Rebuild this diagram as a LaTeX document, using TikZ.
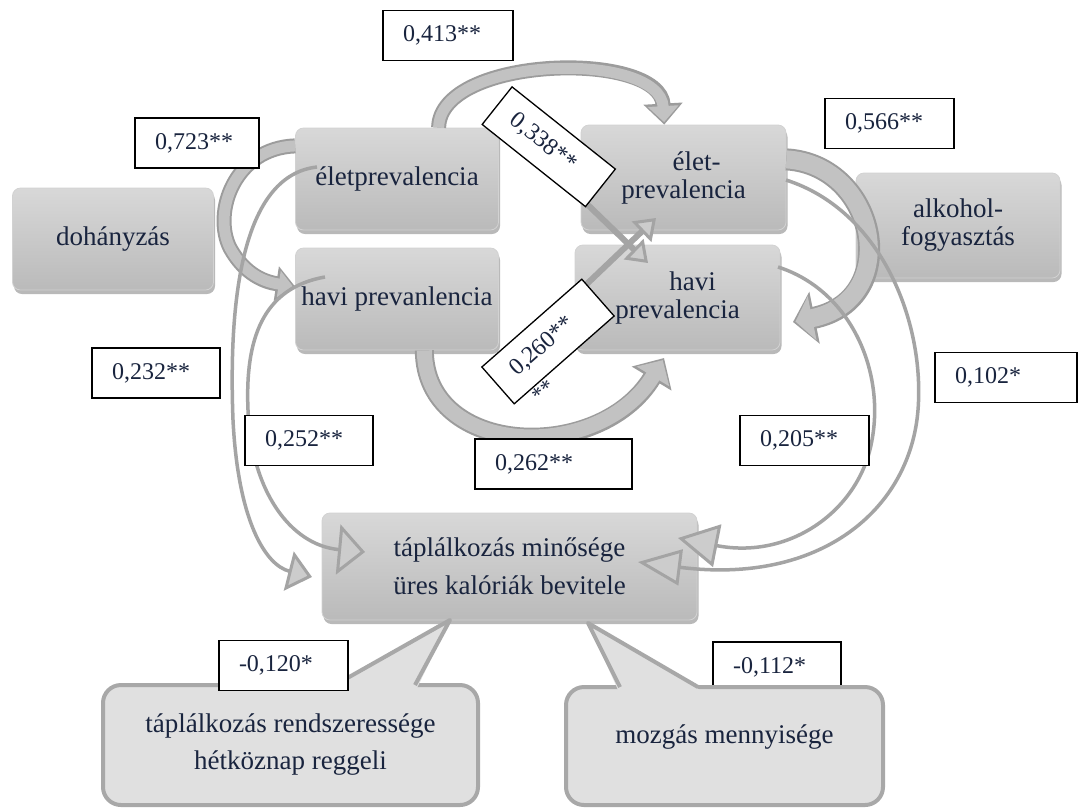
\documentclass[tikz,border=0pt]{standalone}
\usepackage{fontspec}
\setmainfont{Liberation Serif}
\usetikzlibrary{arrows.meta,shadows}

\definecolor{ink}{RGB}{25,36,62}
\definecolor{boxtop}{RGB}{216,216,216}
\definecolor{boxbot}{RGB}{186,186,186}
\definecolor{boxrim}{RGB}{210,210,210}
\definecolor{bandedge}{RGB}{156,156,156}
\definecolor{bandfill}{RGB}{194,194,194}
\definecolor{linkc}{RGB}{164,164,164}
\definecolor{headfill}{RGB}{204,204,204}
\definecolor{calloutfill}{RGB}{224,224,224}
\definecolor{calloutedge}{RGB}{168,168,168}

\tikzset{
  factor/.style={rounded corners=8pt, top color=boxtop, bottom color=boxbot,
    draw=boxrim, line width=0.8pt, text=ink, align=center, inner sep=0pt,
    font=\fontsize{27}{28}\selectfont,
    drop shadow={shadow xshift=1.5pt, shadow yshift=-4pt, opacity=0.55}},
  coef/.style={draw=black, fill=white, line width=1.3pt, text=ink,
    font=\fontsize{24}{26}\selectfont, minimum height=50pt,
    inner xsep=20pt, inner ysep=0pt, align=left},
  bandout/.style={color=bandedge},
  bandin/.style={color=bandfill},
  link/.style={draw=linkc, line width=3.5pt},
  strong/.style={draw=linkc, line width=6pt},
  calloutbox/.style={draw=calloutedge, fill=calloutfill, line width=4pt,
    rounded corners=18pt, text=ink, align=center,
    font=\fontsize{27}{37}\selectfont},
  wedgeline/.style={draw=calloutedge, line width=4pt, line join=round}
}

\begin{document}
\begin{tikzpicture}[x=1pt,y=-1pt]
\path[use as bounding box] (0,0) rectangle (1078,807);
\fill[white] (0,0) rectangle (1078,807);

% ---- variables ----
\node[factor, minimum width=201pt, minimum height=102pt] (doh) at (113,239) {dohányzás};
\node[factor, minimum width=203pt, minimum height=102pt] (elet1) at (397,179) {életprevalencia};
\node[factor, minimum width=203pt, minimum height=102pt] (havi1) at (397,299) {havi prevanlencia};
\node[factor, minimum width=205pt, minimum height=105pt] (elet2) at (683.5,177.5) {\hspace*{26pt}élet-\\prevalencia};
\node[factor, minimum width=205pt, minimum height=105pt] (havi2) at (677.5,297.5) {\hspace*{30pt}havi\\prevalencia};
\node[factor, minimum width=204pt, minimum height=105pt] (alk) at (958,225.5) {alkohol-\\fogyasztás};
\node[factor, minimum width=375pt, minimum height=107pt,
      font=\fontsize{27}{38}\selectfont] (tap) at (509.5,566.5) {táplálkozás minősége\\üres kalóriák bevitele};

% ---- connector end points ----
\coordinate (t262) at (664,358);
\coordinate (t566) at (793,322);
\coordinate (s232) at (317,167);
\coordinate (t232) at (312,577);
\coordinate (s252) at (325,277);
\coordinate (t252) at (365,552);
\coordinate (s205) at (778,267);
\coordinate (t205) at (678,538);
\coordinate (s102) at (786,180);
\coordinate (t102) at (638,562);
\coordinate (s338) at (560,178);
\coordinate (t338) at (648,263);
\coordinate (s260) at (570,300);
\coordinate (t260) at (656,218);

% ---- block arrows (outline pass, then fill pass) ----
% elet1 -> elet2 over the top
\draw[bandout, line width=15pt, -{Triangle[length=21pt,width=38pt]}]
  (elet1.51) .. controls (440,55) and (660,50) .. (elet2.110);
\draw[bandin, line width=11pt, shorten >=2.5pt, -{Triangle[length=16pt,width=30pt]}]
  (elet1.51) .. controls (440,55) and (660,50) .. (elet2.110);
% left loop into havi1
\draw[bandout, line width=15pt, -{Triangle[length=19pt,width=34pt]}]
  (elet1.162) .. controls (235,148) and (212,212) .. (230,248)
  .. controls (245,275) and (265,282) .. (havi1.173);
\draw[bandin, line width=11pt, shorten >=2.5pt, -{Triangle[length=14pt,width=26pt]}]
  (elet1.162) .. controls (235,148) and (212,212) .. (230,248)
  .. controls (245,275) and (265,282) .. (havi1.173);
% havi1 -> havi2 underneath
\draw[bandout, line width=19pt, -{Triangle[length=24pt,width=45pt]}]
  (havi1.298) .. controls (425,458) and (600,464) .. (t262);
\draw[bandin, line width=15pt, shorten >=2.5pt, -{Triangle[length=19pt,width=37pt]}]
  (havi1.298) .. controls (425,458) and (600,464) .. (t262);
% elet2 -> havi2 on the right
\draw[bandout, line width=22pt, -{Triangle[length=22pt,width=52pt]}]
  (elet2.10) .. controls (878,165) and (903,300) .. (t566);
\draw[bandin, line width=18pt, shorten >=2.5pt, -{Triangle[length=17pt,width=44pt]}]
  (elet2.10) .. controls (878,165) and (903,300) .. (t566);

% ---- thin arrows into tap ----
\draw[link, -{Triangle[length=24pt,width=40pt,fill=headfill,line width=3pt]}]
  (s232) .. controls (245,175) and (228,290) .. (233,420)
  .. controls (238,520) and (265,565) .. (t232);
\draw[link, -{Triangle[length=27pt,width=50pt,fill=headfill,line width=3pt]}]
  (s252) .. controls (262,288) and (245,340) .. (248,410)
  .. controls (251,490) and (290,545) .. (t252);
\draw[link, -{Triangle[length=40pt,width=43pt,fill=headfill,line width=3pt]}]
  (s205) .. controls (850,290) and (885,370) .. (872,440)
  .. controls (860,510) and (790,560) .. (t205);
\draw[link, -{Triangle[length=43pt,width=36pt,fill=headfill,line width=3pt]}]
  (s102) .. controls (880,210) and (925,320) .. (918,410)
  .. controls (910,510) and (820,585) .. (t102);

% ---- crossing straight arrows ----
\draw[strong, -{Triangle[length=20pt,width=28pt,fill=headfill,line width=3pt]}] (s338) -- (t338);
\draw[strong, -{Triangle[length=20pt,width=28pt,fill=headfill,line width=3pt]}] (s260) -- (t260);

% ---- coefficient under the right callout ----
\node[coef, text width=88pt] (c112) at (777,667) {-0,112*};

% ---- callouts ----
\node[calloutbox, minimum width=375pt, minimum height=120pt] (cb1) at (290.5,745)
  {táplálkozás rendszeressége\\hétköznap reggeli};
\fill[calloutfill] (333,688) -- (450,620) -- (417,688) -- cycle;
\draw[wedgeline] (335,685) -- (450,620) -- (415,685);

\node[calloutbox, minimum width=317pt, minimum height=118pt,
      text height=20pt, text depth=26pt] (cb2) at (724.5,746) {mozgás mennyisége};
\fill[calloutfill] (618,690) -- (588,623) -- (700,690) -- cycle;
\draw[wedgeline] (620,687) -- (588,623) -- (698,687);

% ---- coefficients ----
\node[coef, text width=90pt] (c413) at (448,35.5) {0,413**};
\node[coef, text width=84pt] (c723) at (197,143) {0,723**};
\node[coef, text width=88pt] (c232) at (156,373) {0,232**};
\node[coef, text width=89pt] (c566) at (889.5,123.5) {0,566**};
\node[coef, text width=102pt] (c102) at (1006,377.5) {0,102*};
\node[coef, text width=88pt] (c252) at (309,440.5) {0,252**};
\node[coef, text width=117pt] (c262) at (553.5,464) {0,262**};
\node[coef, text width=89pt] (c205) at (804.5,440.5) {0,205**};
\node[coef, text width=89pt] (c120) at (283.5,665.5) {-0,120*};
\node[coef, text width=92pt, minimum height=48pt, rotate=-38.5] (c338) at (548.75,146.75) {0,338**};
\node[text=ink, font=\fontsize{22}{22}\selectfont, rotate=41.3] (c260x) at (543,391) {**};
\node[coef, text width=93pt, minimum height=49pt, rotate=41.3] (c260) at (548,341.5) {0,260**};
\end{tikzpicture}
\end{document}
